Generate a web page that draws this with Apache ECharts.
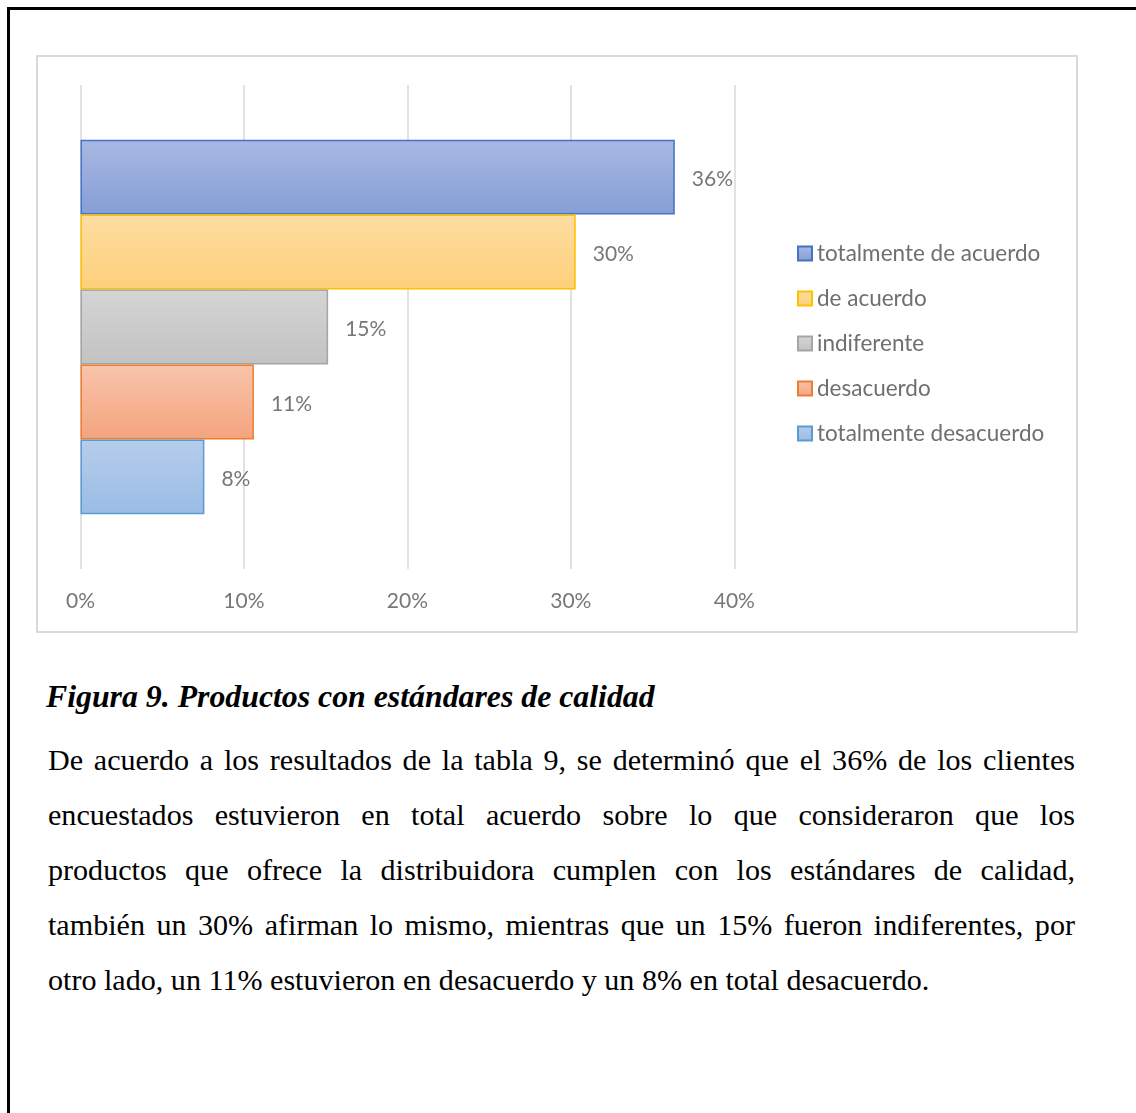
<!DOCTYPE html>
<html>
<head>
<meta charset="utf-8">
<script src="https://cdn.jsdelivr.net/npm/echarts@6/dist/echarts.min.js"></script>
<style>
  html, body { margin: 0; padding: 0; background: #fff; }
  body { width: 1136px; height: 1113px; position: relative; overflow: hidden; }
  #frame { position: absolute; left: 7px; top: 7px; width: 1200px; height: 1200px; z-index: 5;
           border-left: 3px solid #000; border-top: 3px solid #000; pointer-events: none; }
  #chart { position: absolute; left: 0; top: 0; width: 1136px; height: 650px; }
  #caption { position: absolute; left: 46px; top: 677px; height: 40px; line-height: 40px;
             font-family: "Liberation Serif", serif; font-weight: bold; font-style: italic;
             font-size: 31.8px; color: #000; white-space: nowrap; }
  #body { position: absolute; left: 48px; top: 733px; width: 1027px; font-family: "Liberation Serif", serif;
          font-size: 30.1px; line-height: 55px; color: #000; }
  #body .ln { text-align: justify; text-align-last: justify; white-space: nowrap; }
  #body .ln.last { text-align-last: left; }
</style>
</head>
<body>
<div id="frame"></div>
<div id="chart"></div>
<div id="caption">Figura 9. Productos con estándares de calidad</div>
<div id="body">
  <div class="ln">De acuerdo a los resultados de la tabla 9, se determinó que el 36% de los clientes</div>
  <div class="ln">encuestados estuvieron en total acuerdo sobre lo que consideraron que los</div>
  <div class="ln">productos que ofrece la distribuidora cumplen con los estándares de calidad,</div>
  <div class="ln">también un 30% afirman lo mismo, mientras que un 15% fueron indiferentes, por</div>
  <div class="ln last">otro lado, un 11% estuvieron en desacuerdo y un 8% en total desacuerdo.</div>
</div>
<script>
// Survey answers (share of clients) for "Productos con estándares de calidad"
const seriesNames = ['totalmente de acuerdo', 'de acuerdo', 'indiferente', 'desacuerdo', 'totalmente desacuerdo'];
const shares = [0.3636, 0.3030, 0.1515, 0.1061, 0.0758];
const borderColors = ['#4472C4', '#FFC000', '#A5A5A5', '#ED7D31', '#5B9BD5'];
const gradientTop = ['#aab8e2', '#fedda2', '#d5d5d5', '#f8c4ab', '#b6cdea'];
const gradientBottom = ['#849ed5', '#fdd07a', '#c2c2c2', '#f4a47d', '#9abce6'];
const xTicks = [0, 0.1, 0.2, 0.3, 0.4];

const FONT = 'Lato, "Noto Sans", sans-serif';
const chart = echarts.init(document.getElementById('chart'), null, { renderer: 'canvas' });

const series = seriesNames.map((name, i) => ({
  name: name,
  type: 'bar',
  barGap: '0%',
  barCategoryGap: '22.6%',
  data: [shares[i]],
  itemStyle: {
    color: new echarts.graphic.LinearGradient(0, 0, 0, 1, [
      { offset: 0, color: gradientTop[i] },
      { offset: 1, color: gradientBottom[i] }
    ]),
    borderColor: borderColors[i],
    borderWidth: 1.5
  },
  label: {
    show: true,
    position: 'right',
    distance: 17,
    offset: [0, 2],
    color: '#777777',
    fontFamily: FONT,
    fontSize: 21,
    formatter: p => Math.round(p.value * 100) + '%'
  }
}));

chart.setOption({
  animation: false,
  backgroundColor: 'transparent',
  graphic: [{
    type: 'rect',
    shape: { x: 37, y: 56, width: 1040, height: 576 },
    style: { fill: 'none', stroke: '#d9d9d9', lineWidth: 2 },
    silent: true,
    z: -10
  }],
  grid: { left: 80.5, right: 1136 - 734.3, top: 85, bottom: 650 - 569 },
  legend: {
    orient: 'vertical',
    left: 797,
    top: 242,
    padding: 0,
    itemWidth: 14,
    itemHeight: 14,
    itemGap: 22,
    itemTextGap: 6,
    icon: 'rect',
    data: seriesNames,
    textStyle: { color: '#6f6f6f', fontFamily: FONT, fontSize: 22.5, lineHeight: 22 }
  },
  xAxis: {
    type: 'value',
    min: xTicks[0],
    max: xTicks[xTicks.length - 1],
    interval: 0.1,
    axisLine: { show: false },
    axisTick: { show: false },
    splitLine: { show: true, lineStyle: { color: '#d9d9d9', width: 1.5 } },
    axisLabel: {
      color: '#777777',
      fontFamily: FONT,
      fontSize: 21,
      margin: 22,
      formatter: v => Math.round(v * 100) + '%'
    }
  },
  yAxis: {
    type: 'category',
    inverse: true,
    data: [''],
    axisLine: { show: false },
    axisTick: { show: false },
    axisLabel: { show: false }
  },
  series: series
});
</script>
</body>
</html>
